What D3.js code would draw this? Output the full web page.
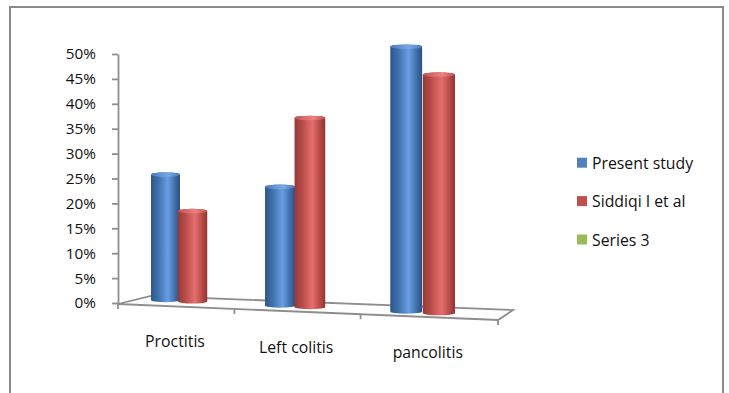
<!DOCTYPE html>
<html>
<head>
<meta charset="utf-8">
<script src="https://cdn.jsdelivr.net/npm/d3@7"></script>
<style>
  html, body { margin: 0; padding: 0; background: #fff; }
  svg { display: block; }
  text { font-family: "Open Sans", sans-serif; fill: #111; }
</style>
</head>
<body>
<svg id="chart" width="729" height="393"></svg>
<script>
// ---- data ----
const categories = ["Proctitis", "Left colitis", "pancolitis"];
const seriesNames = ["Present study", "Siddiqi I et al", "Series 3"];
const presentStudy = [0.26, 0.235, 0.50];
const siddiqi = [0.185, 0.37, 0.445];
const series3 = [null, null, null];
const yTickValues = [0, 0.05, 0.10, 0.15, 0.20, 0.25, 0.30, 0.35, 0.40, 0.45, 0.50];
const seriesColors = ["#4f81bd", "#c0504d", "#9bbb59"];

const svg = d3.select("#chart");

// outer chart border
svg.append("rect").attr("x", 10).attr("y", 7).attr("width", 713).attr("height", 410)
  .attr("fill", "none").attr("stroke", "#8a8a8a").attr("stroke-width", 2);

// ---- gradients ----
const defs = svg.append("defs");
function grad(id, stops) {
  const g = defs.append("linearGradient").attr("id", id).attr("x1", "0").attr("x2", "1").attr("y1", "0").attr("y2", "0");
  stops.forEach(s => g.append("stop").attr("offset", s[0]).attr("stop-color", s[1]));
}
grad("side0", [[0, "#2d5788"], [0.25, "#3f70ad"], [0.58, "#6a9ee2"], [0.85, "#3c6aa6"], [1, "#2a4f7e"]]);
grad("side1", [[0, "#953a38"], [0.25, "#b84b49"], [0.58, "#e46f6d"], [0.85, "#b34745"], [1, "#8e3533"]]);
grad("top0", [[0, "#4a7cbc"], [0.6, "#7aa8e6"], [1, "#4a78b4"]]);
grad("top1", [[0, "#c25553"], [0.6, "#ec8280"], [1, "#bd5250"]]);

// ---- scales ----
const yAxisScale = d3.scaleLinear().domain([0, 0.5]).range([303, 54]);
const barHeight = d3.scaleLinear().domain([0, 0.5]).range([0, 237]);

// category position in "depth-free" unit space
const uBand = d3.scaleBand().domain(categories).range([0, 1]).paddingInner(0.511).paddingOuter(0.2555);
const uSeries = d3.scaleBand().domain([0, 1]).range([0, uBand.bandwidth()]);

// perspective helpers (layout geometry)
const barPlane = { a: 301.3, b: 124.8, c: -0.1323 };
const floorPlane = { a: 321.5, b: 118, c: -0.1176 };
const barX = u => (barPlane.a * u + barPlane.b) / (1 + barPlane.c * u);
const barMag = u => 1 / (1 + barPlane.c * u);
const barBase = d3.scaleLinear().domain([166.5, 437.5]).range([300, 313]);
const floorX = u => (floorPlane.a * u + floorPlane.b) / (1 + floorPlane.c * u);
const floorT = d3.scaleLinear().domain([118, 498]).range([0, 1]);
const frontY = d3.scaleLinear().domain([0, 1]).range([304, 320]);
const backX = d3.scaleLinear().domain([0, 1]).range([151, 513]);
const backY = d3.scaleLinear().domain([0, 1]).range([296, 310]);

function floorPt(u, v) { // v: 0 front, 1 back
  const fx = floorX(u), t = floorT(fx);
  const fy = frontY(t), bx = backX(t), by = backY(t);
  return [fx + (bx - fx) * v, fy + (by - fy) * v];
}

const gridColor = "#8e8e8e";
// ---- floor ----
const floor = svg.append("g").attr("fill", "none").attr("stroke", gridColor).attr("stroke-width", 1.8);
const line = d3.line();
floor.append("path").attr("d", line([floorPt(0, 0), floorPt(0, 1), floorPt(1, 1), floorPt(1, 0), floorPt(0, 0)]));
[0, 1 / 3, 2 / 3, 1].forEach(u => {
  const p = floorPt(u, 0);
  floor.append("line").attr("x1", p[0]).attr("y1", p[1]).attr("x2", p[0]).attr("y2", p[1] + 5);
});

// ---- y axis ----
const yAxis = d3.axisLeft(yAxisScale).tickValues(yTickValues).tickFormat(d3.format(".0%"))
  .tickSize(6).tickSizeOuter(0).tickPadding(16);
const ax = svg.append("g").attr("transform", "translate(118,0)").call(yAxis);
ax.select(".domain").attr("stroke", gridColor).attr("stroke-width", 1.8);
ax.selectAll(".tick line").attr("stroke", gridColor).attr("stroke-width", 1.8);
ax.selectAll(".tick text").attr("font-family", "Open Sans").attr("font-size", 15.3).attr("fill", "#111");

// ---- bars (cylinders) ----
const seriesData = [presentStudy, siddiqi, series3];
const ry = 2.3;
const barW0 = 28.5;
const bars = svg.append("g");
categories.forEach((cat, ci) => {
  [0, 1].forEach(si => {
    const v = seriesData[si][ci];
    if (v == null) return;
    const u = uBand(cat) + uSeries(si) + uSeries.bandwidth() / 2;
    const cx = barX(u), m = barMag(u);
    const w = barW0 * m;
    const yb = barBase(cx);
    const h = barHeight(v) * m;
    const xL = cx - w / 2, xR = cx + w / 2, yt = yb - h;
    bars.append("path")
      .attr("d", `M${xL},${yt} L${xL},${yb} A${w / 2},${ry} 0 0 0 ${xR},${yb} L${xR},${yt} A${w / 2},${ry} 0 0 0 ${xL},${yt} Z`)
      .attr("fill", `url(#side${si})`);
    bars.append("ellipse").attr("cx", cx).attr("cy", yt).attr("rx", w / 2).attr("ry", ry)
      .attr("fill", `url(#top${si})`);
  });
});

// ---- category labels ----
categories.forEach(cat => {
  const u = uBand(cat) + uBand.bandwidth() / 2;
  const p = floorPt(u, 0);
  svg.append("text").attr("x", p[0]).attr("y", p[1] + 41).attr("text-anchor", "middle")
    .attr("font-size", 15.8).text(cat);
});

// ---- legend ----
const legendY = d3.scalePoint().domain(seriesNames).range([162.7, 239.5]);
seriesNames.forEach((name, i) => {
  const y = legendY(name);
  svg.append("rect").attr("x", 577).attr("y", y - 5).attr("width", 10).attr("height", 10).attr("fill", seriesColors[i]);
  svg.append("text").attr("x", 592).attr("y", y).attr("dominant-baseline", "central")
    .attr("font-size", 15.8).text(name);
});
</script>
</body>
</html>
